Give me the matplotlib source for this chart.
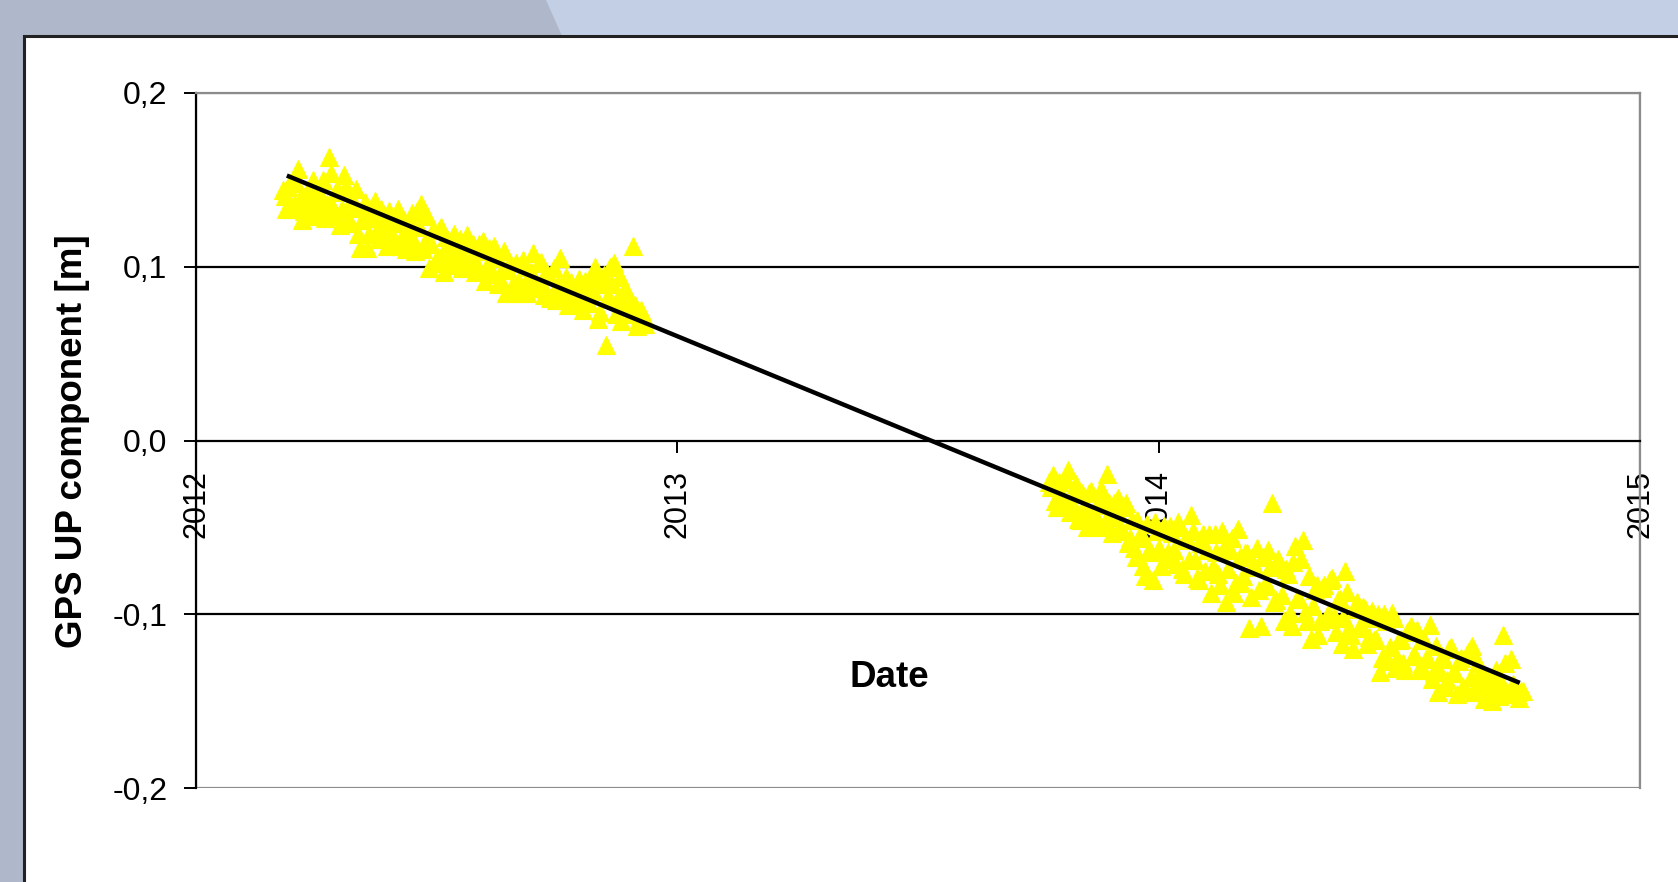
import matplotlib
matplotlib.use("Agg")
import matplotlib.pyplot as plt
from matplotlib.patches import Polygon, Rectangle
from matplotlib.ticker import FuncFormatter

plt.rcParams["font.family"] = ["Liberation Sans", "DejaVu Sans"]

# GPS solutions, first campaign (decimal year, UP in metres)
epochs_2012 = [
    2012.180, 2012.188, 2012.196, 2012.204, 2012.212, 2012.220, 2012.228, 2012.236, 2012.244, 2012.252,
    2012.260, 2012.268, 2012.276, 2012.284, 2012.292, 2012.300, 2012.308, 2012.316, 2012.324, 2012.332,
    2012.340, 2012.348, 2012.356, 2012.364, 2012.372, 2012.380, 2012.388, 2012.396, 2012.404, 2012.412,
    2012.420, 2012.428, 2012.436, 2012.444, 2012.452, 2012.460, 2012.468, 2012.476, 2012.484, 2012.492,
    2012.500, 2012.508, 2012.516, 2012.524, 2012.532, 2012.540, 2012.548, 2012.556, 2012.564, 2012.572,
    2012.580, 2012.588, 2012.596, 2012.604, 2012.612, 2012.620, 2012.628, 2012.636, 2012.644, 2012.652,
    2012.660, 2012.668, 2012.676, 2012.684, 2012.692, 2012.700, 2012.708, 2012.716, 2012.724, 2012.732,
    2012.740, 2012.748, 2012.756, 2012.764, 2012.772, 2012.780, 2012.788, 2012.796, 2012.804, 2012.812,
    2012.820, 2012.828, 2012.836, 2012.844, 2012.852, 2012.860, 2012.868, 2012.876, 2012.884, 2012.892,
    2012.900, 2012.908, 2012.916, 2012.924, 2012.932,
]
up_2012 = [
    0.144, 0.133, 0.148, 0.136, 0.156, 0.127, 0.140, 0.129, 0.150, 0.133,
    0.141, 0.128, 0.163, 0.134, 0.145, 0.124, 0.153, 0.128, 0.139, 0.145,
    0.111, 0.128, 0.111, 0.134, 0.138, 0.116, 0.126, 0.112, 0.130, 0.116,
    0.133, 0.117, 0.110, 0.126, 0.114, 0.132, 0.136, 0.114, 0.099, 0.121,
    0.105, 0.123, 0.097, 0.110, 0.115, 0.104, 0.116, 0.105, 0.118, 0.105,
    0.097, 0.113, 0.115, 0.098, 0.105, 0.112, 0.090, 0.098, 0.085, 0.102,
    0.085, 0.091, 0.085, 0.100, 0.093, 0.108, 0.088, 0.103, 0.084, 0.095,
    0.084, 0.081, 0.105, 0.089, 0.078, 0.091, 0.079, 0.093, 0.075, 0.084,
    0.093, 0.100, 0.070, 0.090, 0.055, 0.100, 0.102, 0.082, 0.069, 0.088,
    0.081, 0.112, 0.066, 0.075, 0.067,
]
# in-between epochs of the same campaign
epochs_2012b = [
    2012.184, 2012.192, 2012.200, 2012.208, 2012.216, 2012.224, 2012.232, 2012.240, 2012.248, 2012.256,
    2012.264, 2012.272, 2012.280, 2012.288, 2012.296, 2012.304, 2012.312, 2012.320, 2012.328, 2012.336,
    2012.344, 2012.352, 2012.360, 2012.368, 2012.376, 2012.384, 2012.392, 2012.400, 2012.408, 2012.416,
    2012.424, 2012.432, 2012.440, 2012.448, 2012.456, 2012.464, 2012.472, 2012.480, 2012.488, 2012.496,
    2012.504, 2012.512, 2012.520, 2012.528, 2012.536, 2012.544, 2012.552, 2012.560, 2012.568, 2012.576,
    2012.584, 2012.592, 2012.600, 2012.608, 2012.616, 2012.624, 2012.632, 2012.640, 2012.648, 2012.656,
    2012.664, 2012.672, 2012.680, 2012.688, 2012.696, 2012.704, 2012.712, 2012.720, 2012.728, 2012.736,
    2012.744, 2012.752, 2012.760, 2012.768, 2012.776, 2012.784, 2012.792, 2012.800, 2012.808, 2012.816,
    2012.824, 2012.832, 2012.840, 2012.848, 2012.856, 2012.864, 2012.872, 2012.880, 2012.888, 2012.896,
    2012.904, 2012.912, 2012.920, 2012.928,
]
up_2012b = [
    0.141, 0.146, 0.133, 0.148, 0.139, 0.132, 0.144, 0.136, 0.145, 0.131,
    0.150, 0.136, 0.154, 0.129, 0.143, 0.133, 0.146, 0.125, 0.134, 0.119,
    0.127, 0.137, 0.119, 0.128, 0.121, 0.133, 0.121, 0.132, 0.116, 0.125,
    0.112, 0.127, 0.119, 0.131, 0.109, 0.123, 0.110, 0.129, 0.113, 0.102,
    0.121, 0.107, 0.117, 0.101, 0.119, 0.108, 0.099, 0.113, 0.101, 0.113,
    0.101, 0.109, 0.092, 0.111, 0.096, 0.107, 0.093, 0.109, 0.098, 0.089,
    0.102, 0.091, 0.104, 0.085, 0.097, 0.088, 0.102, 0.089, 0.097, 0.082,
    0.099, 0.090, 0.081, 0.094, 0.086, 0.078, 0.090, 0.080, 0.092, 0.079,
    0.086, 0.093, 0.074, 0.095, 0.083, 0.090, 0.073, 0.094, 0.078, 0.084,
    0.073, 0.078, 0.070, 0.072,
]

# second campaign
epochs_2014 = [
    2013.772, 2013.780, 2013.788, 2013.796, 2013.804, 2013.812, 2013.820, 2013.828, 2013.836, 2013.844,
    2013.852, 2013.860, 2013.868, 2013.876, 2013.884, 2013.892, 2013.900, 2013.908, 2013.916, 2013.924,
    2013.932, 2013.940, 2013.948, 2013.956, 2013.964, 2013.972, 2013.980, 2013.988, 2013.996, 2014.004,
    2014.012, 2014.020, 2014.028, 2014.036, 2014.044, 2014.052, 2014.060, 2014.068, 2014.076, 2014.084,
    2014.092, 2014.100, 2014.108, 2014.116, 2014.124, 2014.132, 2014.140, 2014.148, 2014.156, 2014.164,
    2014.172, 2014.180, 2014.188, 2014.196, 2014.204, 2014.212, 2014.220, 2014.228, 2014.236, 2014.244,
    2014.252, 2014.260, 2014.268, 2014.276, 2014.284, 2014.292, 2014.300, 2014.308, 2014.316, 2014.324,
    2014.332, 2014.340, 2014.348, 2014.356, 2014.364, 2014.372, 2014.380, 2014.388, 2014.396, 2014.404,
    2014.412, 2014.420, 2014.428, 2014.436, 2014.444, 2014.452, 2014.460, 2014.468, 2014.476, 2014.484,
    2014.492, 2014.500, 2014.508, 2014.516, 2014.524, 2014.532, 2014.540, 2014.548, 2014.556, 2014.564,
    2014.572, 2014.580, 2014.588, 2014.596, 2014.604, 2014.612, 2014.620, 2014.628, 2014.636, 2014.644,
    2014.652, 2014.660, 2014.668, 2014.676, 2014.684, 2014.692, 2014.700, 2014.708, 2014.716, 2014.724,
    2014.732, 2014.740, 2014.748, 2014.756,
]
up_2014 = [
    -0.024, -0.020, -0.038, -0.029, -0.037, -0.017, -0.036, -0.025, -0.046, -0.038,
    -0.050, -0.029, -0.043, -0.050, -0.036, -0.019, -0.044, -0.036, -0.033, -0.052,
    -0.036, -0.056, -0.062, -0.046, -0.053, -0.078, -0.063, -0.080, -0.052, -0.072,
    -0.049, -0.064, -0.053, -0.071, -0.050, -0.077, -0.057, -0.043, -0.069, -0.080,
    -0.054, -0.063, -0.088, -0.054, -0.077, -0.052, -0.093, -0.063, -0.088, -0.051,
    -0.082, -0.065, -0.108, -0.071, -0.062, -0.107, -0.084, -0.063, -0.036, -0.092,
    -0.071, -0.104, -0.077, -0.107, -0.061, -0.091, -0.057, -0.104, -0.114, -0.086,
    -0.112, -0.085, -0.103, -0.080, -0.101, -0.092, -0.117, -0.075, -0.108, -0.120,
    -0.093, -0.106, -0.097, -0.113, -0.098, -0.114, -0.133, -0.100, -0.127, -0.099,
    -0.131, -0.115, -0.128, -0.110, -0.107, -0.124, -0.132, -0.114, -0.126, -0.106,
    -0.133, -0.145, -0.124, -0.142, -0.120, -0.134, -0.146, -0.125, -0.143, -0.121,
    -0.118, -0.141, -0.134, -0.149, -0.140, -0.150, -0.132, -0.147, -0.112, -0.146,
    -0.126, -0.143, -0.148, -0.144,
]
epochs_2014b = [
    2013.776, 2013.784, 2013.792, 2013.800, 2013.808, 2013.816, 2013.824, 2013.832, 2013.840, 2013.848,
    2013.856, 2013.864, 2013.872, 2013.880, 2013.888, 2013.896, 2013.904, 2013.912, 2013.920, 2013.928,
    2013.936, 2013.944, 2013.952, 2013.960, 2013.968, 2013.976, 2013.984, 2013.992, 2014.000, 2014.008,
    2014.016, 2014.024, 2014.032, 2014.040, 2014.048, 2014.056, 2014.064, 2014.072, 2014.080, 2014.088,
    2014.096, 2014.104, 2014.112, 2014.120, 2014.128, 2014.136, 2014.144, 2014.152, 2014.160, 2014.168,
    2014.176, 2014.184, 2014.192, 2014.200, 2014.208, 2014.216, 2014.224, 2014.232, 2014.240, 2014.248,
    2014.256, 2014.264, 2014.272, 2014.280, 2014.288, 2014.296, 2014.304, 2014.312, 2014.320, 2014.328,
    2014.336, 2014.344, 2014.352, 2014.360, 2014.368, 2014.376, 2014.384, 2014.392, 2014.400, 2014.408,
    2014.416, 2014.424, 2014.432, 2014.440, 2014.448, 2014.456, 2014.464, 2014.472, 2014.480, 2014.488,
    2014.496, 2014.504, 2014.512, 2014.520, 2014.528, 2014.536, 2014.544, 2014.552, 2014.560, 2014.568,
    2014.576, 2014.584, 2014.592, 2014.600, 2014.608, 2014.616, 2014.624, 2014.632, 2014.640, 2014.648,
    2014.656, 2014.664, 2014.672, 2014.680, 2014.688, 2014.696, 2014.704, 2014.712, 2014.720, 2014.728,
    2014.736, 2014.744, 2014.752,
]
up_2014b = [
    -0.027, -0.035, -0.024, -0.035, -0.022, -0.041, -0.030, -0.045, -0.030, -0.041,
    -0.030, -0.047, -0.037, -0.028, -0.047, -0.036, -0.053, -0.040, -0.049, -0.038,
    -0.059, -0.046, -0.067, -0.056, -0.072, -0.048, -0.064, -0.047, -0.062, -0.051,
    -0.068, -0.049, -0.063, -0.047, -0.074, -0.056, -0.069, -0.052, -0.079, -0.059,
    -0.075, -0.054, -0.073, -0.064, -0.083, -0.062, -0.074, -0.056, -0.082, -0.067,
    -0.078, -0.065, -0.090, -0.073, -0.086, -0.067, -0.082, -0.073, -0.093, -0.068,
    -0.089, -0.074, -0.099, -0.070, -0.091, -0.068, -0.099, -0.078, -0.095, -0.083,
    -0.104, -0.083, -0.100, -0.079, -0.110, -0.091, -0.102, -0.087, -0.112, -0.097,
    -0.108, -0.096, -0.117, -0.102, -0.115, -0.100, -0.125, -0.104, -0.119, -0.102,
    -0.125, -0.114, -0.132, -0.109, -0.124, -0.109, -0.130, -0.115, -0.126, -0.137,
    -0.118, -0.133, -0.126, -0.138, -0.119, -0.134, -0.127, -0.142, -0.123, -0.136,
    -0.145, -0.128, -0.141, -0.136, -0.147, -0.135, -0.144, -0.139, -0.128, -0.145,
    -0.140, -0.145, -0.144,
]

# linear trend (end points of the fitted line)
trend_epochs = [2012.193, 2014.746]
trend_up = [0.152, -0.139]

year_ticks = [2012, 2013, 2014, 2015]
up_ticks = [-0.2, -0.1, 0.0, 0.1, 0.2]

W, H = 1678, 882
fig = plt.figure(figsize=(W / 100, H / 100), dpi=100)
fig.patch.set_facecolor("#c3cfe4")


def fx(px):
    return px / W


def fy(py):
    return 1 - py / H


# window chrome: grey strip on the left and top-left tab, white chart sheet
fig.patches.append(Polygon(
    [(fx(0), fy(0)), (fx(546), fy(0)), (fx(562), fy(36)), (fx(24), fy(36)),
     (fx(24), fy(H)), (fx(0), fy(H))],
    closed=True, transform=fig.transFigure, facecolor="#afb7ca", edgecolor="none", zorder=-2))
fig.patches.append(Rectangle(
    (fx(24), fy(H + 10)), fx(W), fy(36) - fy(H + 10),
    transform=fig.transFigure, facecolor="white", edgecolor="#222222", linewidth=2.2, zorder=-1))

ax = fig.add_axes([fx(196), fy(788), fx(1640) - fx(196), fy(93) - fy(788)])
ax.set_xlim(2012, 2015)
ax.set_ylim(-0.2, 0.2)
ax.patch.set_alpha(0)

for side in ("top", "right"):
    ax.spines[side].set_color("#8c8c8c")
    ax.spines[side].set_linewidth(1.6)
ax.spines["left"].set_color("black")
ax.spines["left"].set_linewidth(1.6)
ax.spines["bottom"].set_position(("data", 0))
ax.spines["bottom"].set_color("black")
ax.spines["bottom"].set_linewidth(1.6)
ax.add_patch(Rectangle((0, 0), 1, 1, transform=ax.transAxes, fill=False,
                       edgecolor="#8c8c8c", linewidth=1.6, zorder=0.5))

for v in (0.1, -0.1):
    ax.axhline(v, color="black", linewidth=1.6, zorder=1)

ax.set_xticks(year_ticks)
ax.set_xticklabels([str(y) for y in year_ticks], rotation=90, va="top", fontsize=22)
ax.set_yticks(up_ticks)
ax.yaxis.set_major_formatter(FuncFormatter(
    lambda v, _: f"{v:.1f}".replace(".", ",").replace("-0,0", "0,0")))
ax.tick_params(axis="y", direction="out", length=8.5, width=1.4, pad=12, labelsize=23)
ax.tick_params(axis="x", direction="out", length=8.5, width=1.4, pad=13)

marker_style = dict(linestyle="none", marker="^", markersize=13.5, markerfacecolor="#ffff00",
                    markeredgecolor="#ffff00", markeredgewidth=0.8, zorder=2)
ax.plot(epochs_2012 + epochs_2012b, up_2012 + up_2012b, **marker_style)
ax.plot(epochs_2014 + epochs_2014b, up_2014 + up_2014b, **marker_style)
ax.plot(trend_epochs, trend_up, color="black", linewidth=3.2, zorder=3)

ax.text(0.480, 0.159, "Date", transform=ax.transAxes, ha="center", va="center",
        fontsize=26.5, fontweight="bold")
fig.text(fx(73), fy(441), "GPS UP component [m]", rotation=90, ha="center", va="center",
         fontsize=26.5, fontweight="bold")

fig.savefig("out.png", dpi=100)
